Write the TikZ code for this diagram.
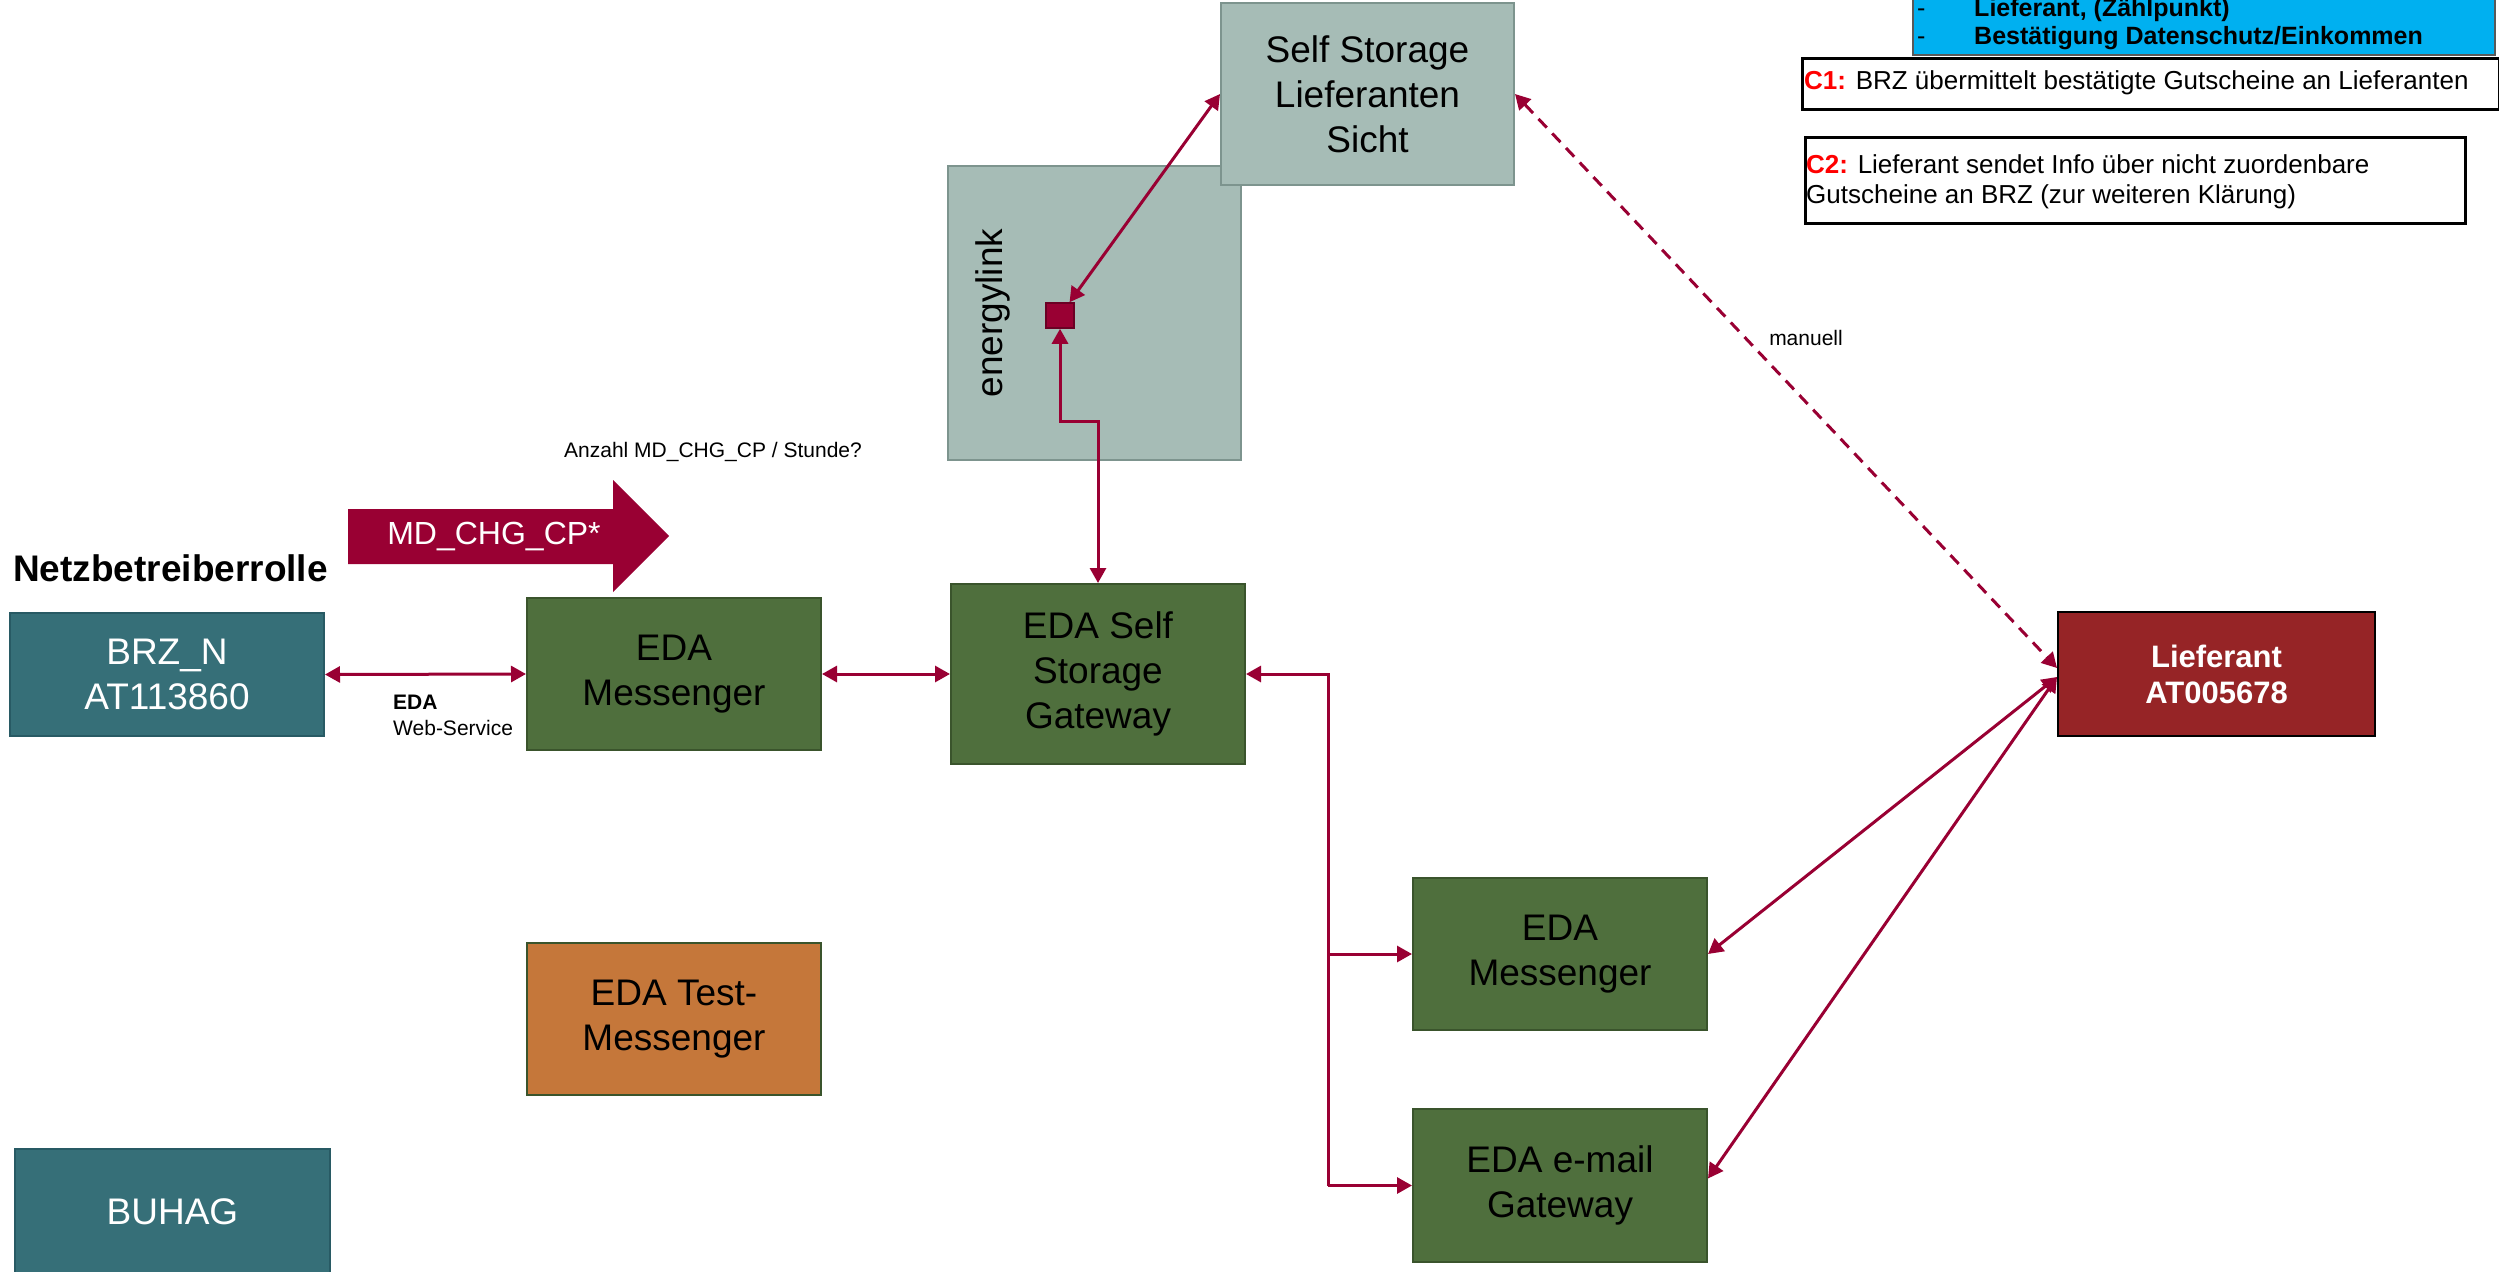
\documentclass[tikz,border=0pt]{standalone}
\usepackage{fontspec}
\setmainfont{Liberation Sans}
\usetikzlibrary{arrows.meta,calc}
\definecolor{tealbox}{RGB}{54,111,120}
\definecolor{tealbord}{RGB}{40,90,100}
\definecolor{edagreen}{RGB}{79,111,61}
\definecolor{edagreenb}{RGB}{58,84,44}
\definecolor{grayfill}{RGB}{166,188,182}
\definecolor{graybord}{RGB}{125,148,142}
\definecolor{orangebox}{RGB}{197,119,58}
\definecolor{crim}{RGB}{153,0,51}
\definecolor{liefred}{RGB}{150,36,38}
\definecolor{infoblue}{RGB}{0,176,240}
\newcommand\myfs[2]{\fontsize{#1}{#2}\selectfont}
\begin{document}
\begin{tikzpicture}[x=1pt,y=-1pt,
  box/.style={rectangle, inner sep=0pt, align=center, font=\myfs{37}{45}, line width=2pt},
  greenbox/.style={box, fill=edagreen, draw=edagreenb, minimum width=294pt, minimum height=152pt},
  tealnode/.style={box, fill=tealbox, draw=tealbord, text=white},
  graynode/.style={box, fill=grayfill, draw=graybord},
  conn/.style={draw=crim, line width=3pt, {Triangle[length=15pt,width=16pt]}-{Triangle[length=15pt,width=16pt]}},
  oneway/.style={draw=crim, line width=3pt, -{Triangle[length=15pt,width=16pt]}},
  small/.style={font=\myfs{21}{25}, inner sep=0pt},
  noteframe/.style={draw=black, line width=3pt, inner sep=0pt, anchor=north west},
  notetext/.style={inner sep=0pt, align=left, font=\myfs{26}{30}}
]
\useasboundingbox (0,0) rectangle (2499,1271);
\clip (0,0) rectangle (2499,1271);

% info box (top right, cut off)
\node[fill=infoblue, draw=black!65, line width=2pt, minimum width=582pt, minimum height=155pt, inner sep=0pt] (info) at (2204,-22.5) {};
\node[anchor=base west, font=\myfs{25}{28}, inner sep=0pt] (d1) at (1917,17) {-};
\node[anchor=base west, font=\myfs{25}{28}\bfseries, inner sep=0pt] (l1) at (1974,17) {Lieferant, (Zählpunkt)};
\node[anchor=base west, font=\myfs{25}{28}, inner sep=0pt] (d2) at (1917,45) {-};
\node[anchor=base west, font=\myfs{25}{28}\bfseries, inner sep=0pt] (l2) at (1974,45) {Bestätigung Datenschutz/Einkommen};

% C1 / C2 notes
\node[noteframe, minimum width=697pt, minimum height=51pt] (c1) at (1801,57) {};
\node[notetext, anchor=west] (c1text) at (1804,83)
  {\textcolor{red}{\bfseries C1:} BRZ übermittelt bestätigte Gutscheine an Lieferanten};
\node[noteframe, minimum width=660pt, minimum height=86pt] (c2) at (1804,136) {};
\node[notetext, anchor=base west] (c2text) at (1806,203)
  {\textcolor{red}{\bfseries C2:} Lieferant sendet Info über nicht zuordenbare\\Gutscheine an BRZ (zur weiteren Klärung)};

% energylink and self storage
\node[graynode, minimum width=293pt, minimum height=294pt] (energylink) at (1094.5,313) {};
\node[rotate=90, font=\myfs{37}{45}, inner sep=0pt] (elabel) at (993,313) {energylink};
\node[graynode, minimum width=293pt, minimum height=182pt] (selfstorage) at (1367.5,94) {Self Storage\\Lieferanten\\Sicht};
\node[rectangle, fill=crim, draw=crim!70!black, line width=1.5pt, minimum width=28pt, minimum height=25pt, inner sep=0pt] (sq) at (1060,315.5) {};

% left side
\node[anchor=west, font=\myfs{37}{45}\bfseries, inner sep=0pt] (netz) at (13,568) {Netzbetreiberrolle};
\node[tealnode, minimum width=314pt, minimum height=123pt] (brzn) at (167,674.5) {BRZ\_N\\AT113860};
\node[tealnode, minimum width=315pt, minimum height=126pt] (buhag) at (172.5,1212) {BUHAG};

% MD_CHG_CP arrow
\fill[crim] (348,509) -- (613,509) -- (613,480) -- (669,536) -- (613,592) -- (613,564) -- (348,564) -- cycle;
\node[text=white, font=\myfs{32}{38}, inner sep=0pt] (mdtext) at (494,537) {MD\_CHG\_CP*};
\node[small] (anzahl) at (713,452) {Anzahl MD\_CHG\_CP / Stunde?};

% EDA nodes
\node[greenbox] (msg1) at (674,674) {EDA\\Messenger};
\node[box, fill=orangebox, draw=edagreenb, minimum width=294pt, minimum height=152pt] (test) at (674,1019) {EDA Test-\\Messenger};
\node[greenbox, minimum height=180pt] (gw) at (1098,674) {EDA Self\\Storage\\Gateway};
\node[greenbox] (msg2) at (1560,954) {EDA\\Messenger};
\node[greenbox, minimum height=153pt] (mail) at (1560,1185.5) {EDA e-mail\\Gateway};
\node[box, fill=liefred, draw=black, text=white, font=\myfs{31}{36}\bfseries, minimum width=317pt, minimum height=124pt] (lief) at (2216.5,674) {Lieferant\\AT005678};

% labels
\node[small, anchor=base west, font=\myfs{21}{25}\bfseries] (edalbl) at (393,709) {EDA};
\node[small, anchor=base west] (wslbl) at (393,735) {Web-Service};
\node[small] (manuell) at (1806,338) {manuell};

% connectors
\draw[conn] (brzn.east) -- (msg1.west);
\draw[conn] (msg1.east) -- (gw.west);
\coordinate (j) at (1079,421);
\draw[conn] (sq.south) -- (sq.south |- j) -- (gw.north |- j) -- (gw.north);
\draw[conn] (sq) -- (selfstorage.west);
\draw[conn, dash pattern=on 12pt off 8pt] (selfstorage.east) -- ([yshift=6pt]lief.west);
\draw[conn] ([yshift=-3pt]lief.west) -- (msg2.east);
\draw[conn] ([yshift=-3pt]lief.west) -- ([yshift=7pt]mail.east);
\coordinate (trunk) at (1328,0);
\draw[oneway] (trunk |- mail.west) -- (trunk |- gw.east) -- (gw.east);
\draw[oneway] (trunk |- msg2.west) -- (msg2.west);
\draw[oneway] (trunk |- mail.west) -- (mail.west);
\end{tikzpicture}
\end{document}
